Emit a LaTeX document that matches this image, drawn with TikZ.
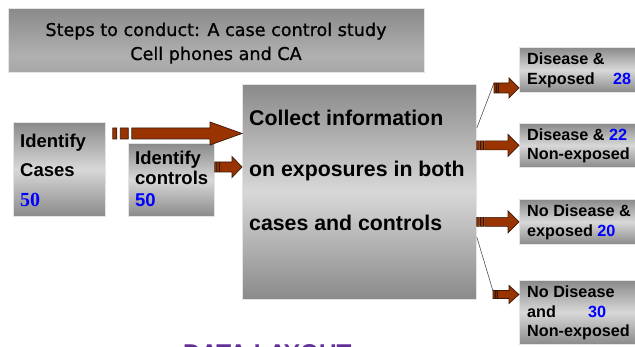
\documentclass[tikz,border=0pt]{standalone}
\usepackage{fontspec}
\setmainfont{Liberation Sans}
\newfontfamily\titlefont[FakeBold=0.9]{DejaVu Sans}
\newfontfamily\numserif{Liberation Serif}
\usetikzlibrary{calc}

\definecolor{arrowbrown}{RGB}{153,51,0}
\definecolor{arrowedge}{RGB}{58,24,8}
\definecolor{boxdark}{RGB}{138,138,138}
\definecolor{boxlight}{RGB}{216,216,216}
\definecolor{boxedge}{RGB}{228,228,228}
\definecolor{titletop}{RGB}{138,138,138}
\definecolor{titlelight}{RGB}{176,176,176}
\definecolor{titlebottom}{RGB}{166,166,166}
\definecolor{numblue}{RGB}{0,0,255}
\definecolor{layoutpurple}{RGB}{96,48,150}

% dark - light - dark band used by the gray boxes
\pgfdeclareverticalshading{grayband}{100bp}{%
  color(0bp)=(boxdark); color(25bp)=(boxdark); color(50bp)=(boxlight);
  color(75bp)=(boxdark); color(100bp)=(boxdark)}
% banner: darker at the top, brightest low down
\pgfdeclareverticalshading{bannerband}{100bp}{%
  color(0bp)=(titlebottom); color(25bp)=(titlebottom); color(38bp)=(titlelight);
  color(75bp)=(titletop); color(100bp)=(titletop)}

\tikzset{
  graybox/.style={anchor=north west, inner sep=0pt, draw=boxedge, line width=0.8pt,
    shading=grayband},
  titlebox/.style={anchor=north west, inner sep=0pt, draw=boxedge, line width=0.8pt,
    shading=bannerband},
  arrowpart/.style={fill=arrowbrown, draw=arrowedge, line width=0.7pt, line join=miter},
  thinlink/.style={draw={rgb,255:red,80;green,80;blue,80}, line width=0.6pt},
  txt/.style={anchor=base west, inner sep=0pt, font=\bfseries\fontsize{18.5}{20}\selectfont},
  bigtxt/.style={anchor=base west, inner sep=0pt, font=\bfseries\fontsize{21.3}{24}\selectfont},
  smalltxt/.style={anchor=base west, inner sep=0pt, font=\bfseries\fontsize{16.2}{19}\selectfont},
  titletxt/.style={anchor=base, inner sep=0pt, font=\titlefont\fontsize{17.6}{20}\selectfont},
}

% striped block arrow pointing right:
% #1 start, #2 tip, #3 half shaft, #4 half head, #5 head length,
% #6 first stripe width, #7 second stripe width, #8 gap between parts
\newcommand\stripedarrow[8]{%
  \path let \p1=(#1), \p2=(#2) in
    [arrowpart] (\x1,\y2-#3) rectangle (\x1+#6,\y2+#3)
    [arrowpart] (\x1+#6+#8,\y2-#3) rectangle (\x1+#6+#8+#7,\y2+#3)
    [arrowpart] (\x1+#6+#7+2*#8,\y2-#3) -- (\x2-#5,\y2-#3) -- (\x2-#5,\y2-#4)
      -- (\x2,\y2) -- (\x2-#5,\y2+#4) -- (\x2-#5,\y2+#3)
      -- (\x1+#6+#7+2*#8,\y2+#3) -- cycle;
}

\begin{document}
\begin{tikzpicture}[x=1pt,y=-1pt]
\clip (0,0) rectangle (635,347);
\fill[white] (0,0) rectangle (635,347);

% title banner
\node[titlebox, minimum width=416pt, minimum height=64pt] (title) at (8,8) {};
\node[titletxt] (title1) at (216,36) {Steps to conduct: A case control study};
\node[titletxt] (title2) at (216,60) {Cell phones and CA};

% left boxes
\node[graybox, minimum width=92pt, minimum height=94pt] (cases) at (13,122) {};
\node[txt] (cases1) at (20,148) {Identify};
\node[txt] (cases2) at (20,177) {Cases};
\node[anchor=base west, inner sep=0pt, text=numblue,
      font=\numserif\bfseries\fontsize{20}{22}\selectfont] (cases3) at (20,207) {50};

\node[graybox, minimum width=86pt, minimum height=73pt] (controls) at (128,143) {};
\node[txt] (controls1) at (135,165) {Identify};
\node[txt] (controls2) at (135,185) {controls};
\node[txt, text=numblue] (controls3) at (135,207) {50};

% central box
\node[graybox, minimum width=234pt, minimum height=215pt] (collect) at (242,84) {};
\node[bigtxt] (collect1) at (249,126) {Collect information};
\node[bigtxt] (collect2) at (249,177) {on exposures in both};
\node[bigtxt] (collect3) at (249,231) {cases and controls};

% outcome boxes
\node[graybox, minimum width=120pt, minimum height=45pt] (de) at (519,47) {};
\node[smalltxt] (de1) at (527,65) {Disease \&};
\node[smalltxt] (de2) at (527,85) {Exposed};
\node[smalltxt, text=numblue] (de3) at (613,85) {28};

\node[graybox, minimum width=120pt, minimum height=44pt] (dn) at (519,123) {};
\node[smalltxt] (dn1) at (527,141) {Disease \& \textcolor{numblue}{22}};
\node[smalltxt] (dn2) at (527,160) {Non-exposed};

\node[graybox, minimum width=120pt, minimum height=45pt] (ne) at (519,199) {};
\node[smalltxt] (ne1) at (527,217) {No Disease \&};
\node[smalltxt] (ne2) at (527,237) {exposed \textcolor{numblue}{20}};

\node[graybox, minimum width=120pt, minimum height=64pt] (nn) at (519,280) {};
\node[smalltxt] (nn1) at (527,298) {No Disease};
\node[smalltxt] (nn2) at (527,318) {and};
\node[smalltxt, text=numblue] (nn3) at (588,318) {30};
\node[smalltxt] (nn4) at (527,337) {Non-exposed};

% arrow anchors
\coordinate (casesout) at ($(cases.north east)+(7,11.5)$);
\coordinate (casesin) at (collect.west |- casesout);
\coordinate (ctrlout) at ($(controls.north east)+(0,24)$);
\coordinate (ctrlin) at (collect.west |- ctrlout);
\coordinate (fork1) at ($(collect.north east)+(0,44)$);
\coordinate (link1) at (494,83);
\coordinate (split1) at (494,88);
\coordinate (dein) at (de.west |- split1);
\coordinate (fork4) at ($(collect.north east)+(0,153)$);
\coordinate (link4) at (493,291);
\coordinate (split4) at (493,294.5);
\coordinate (nnin) at (nn.west |- split4);

% arrows into the central box
\stripedarrow{casesout}{casesin}{5.5pt}{11.5pt}{32pt}{4pt}{8pt}{3.5pt}
\stripedarrow{ctrlout}{ctrlin}{5pt}{10.5pt}{10pt}{2pt}{2pt}{0.5pt}

% arrows to the outcome boxes
\draw[thinlink] (fork1) -- (link1);
\draw[thinlink] (fork4) -- (link4);
\stripedarrow{split1}{dein}{5pt}{10pt}{10pt}{2pt}{1.5pt}{0.5pt}
\stripedarrow{collect.east |- dn.west}{dn.west}{4.5pt}{11pt}{11pt}{2.5pt}{3pt}{1.2pt}
\stripedarrow{collect.east |- ne.west}{ne.west}{4.5pt}{11pt}{11pt}{2.5pt}{3pt}{1.2pt}
\stripedarrow{split4}{nnin}{4pt}{9pt}{10pt}{2pt}{1.5pt}{0.5pt}

% heading of the next section, cut by the page edge
\node[anchor=base west, inner sep=0pt, text=layoutpurple,
      font=\bfseries\fontsize{24.3}{28}\selectfont] (layout) at (183,362) {DATA LAYOUT};
\end{tikzpicture}
\end{document}
